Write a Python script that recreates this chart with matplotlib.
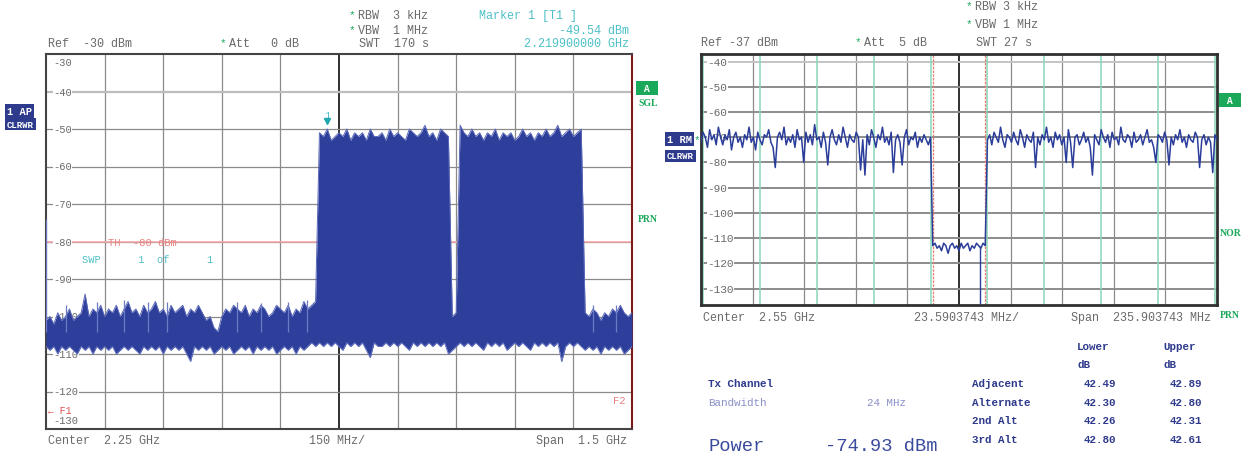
import numpy as np
import matplotlib
matplotlib.use('Agg')
from matplotlib import pyplot as plt

W, H = 1241, 460
MONO = 'Liberation Mono'

# ---- left analyzer: 1.5 .. 3.0 GHz, 10 MHz bins
freq_ghz = np.linspace(1.5, 3.0, 151)
hi_noise_left = [-101, -100, -102, -99, -101, -100, -98, -101, -100, -99,
                 -94, -100, -98, -99, -97, -100, -98, -99, -97, -100,
                 -98, -96, -99, -98, -100, -97, -99, -98, -96, -99,
                 -98, -100, -97, -99, -98, -97, -100, -98, -99, -97,
                 -99, -101, -100, -103, -104, -100, -98, -99, -97, -98,
                 -99, -97, -100, -98, -99, -97, -98, -100, -99, -97,
                 -98, -99, -97, -100, -98, -99, -96, -98, -97, -96]
hi_block1 = [-51, -52, -50, -53, -52, -51, -52, -50, -53, -51,
             -52, -51, -53, -50, -52, -52, -51, -53, -50, -52,
             -51, -52, -53, -50, -51, -52, -51, -49, -52, -51,
             -53, -50, -51, -52]
hi_gap = [-100, -99]
hi_block2 = [-49, -51, -52, -50, -52, -51, -53, -51, -52, -50,
             -53, -51, -52, -51, -53, -52, -50, -52, -51, -53,
             -51, -52, -50, -52, -51, -49, -52, -51, -50, -52,
             -51, -50]
hi_noise_right = [-99, -100, -98, -99, -101, -99, -100, -98, -99, -97, -99, -100, -99]
lo_trace = [-108, -109, -108, -110, -108, -109, -108, -109, -110, -108,
            -109, -108, -110, -108, -109, -108, -109, -108, -110, -109,
            -108, -109, -108, -109, -110, -108, -109, -108, -109, -108,
            -110, -108, -109, -108, -109, -108, -110, -112, -108, -109,
            -108, -109, -108, -110, -109, -108, -109, -108, -110, -109,
            -108, -109, -108, -110, -108, -109, -108, -109, -108, -110,
            -109, -108, -109, -108, -110, -108, -109, -108, -107, -108,
            -107, -108, -107, -108, -107, -108, -109, -107, -108, -107,
            -108, -107, -109, -111, -107, -108, -108, -107, -108, -107,
            -108, -107, -108, -109, -107, -108, -107, -108, -107, -108,
            -107, -108, -107, -110, -109, -108, -107, -108, -107, -108,
            -107, -108, -109, -107, -108, -107, -108, -107, -109, -108,
            -107, -108, -107, -108, -109, -107, -108, -107, -108, -107,
            -108, -107, -112, -108, -107, -108, -107, -108, -109, -108,
            -109, -108, -110, -108, -109, -108, -109, -108, -110, -109, -108]
spike_f = [1.5005, 1.55, 1.63, 1.70, 1.76, 1.81, 1.99, 2.05, 2.12, 2.168, 2.90, 2.96]
spike_top = [-74, -97, -96, -95.5, -96, -96, -96, -96.5, -96, -95.5, -97, -97]
marker_f, marker_db = 2.2199, -49.54
threshold_db = -80

# ---- right analyzer: offset from 2.55 GHz in MHz, 1 MHz steps
off_mhz = np.arange(-118, 119)
tr_left = [-72, -68, -70, -74, -67, -71, -69, -73, -66, -70,
           -73, -69, -71, -67, -75, -70, -68, -72, -70, -74,
           -69, -71, -66, -72, -70, -75, -68, -71, -73, -69,
           -70, -67, -72, -74, -82, -70, -68, -71, -66, -73,
           -70, -72, -69, -74, -67, -71, -70, -80, -68, -72,
           -69, -73, -65, -71, -70, -74, -68, -72, -81, -70,
           -67, -71, -73, -69, -72, -66, -70, -74, -69, -71,
           -72, -68, -70, -83, -71, -85, -69, -73, -67, -70,
           -74, -69, -71, -66, -72, -70, -73, -68, -84, -71,
           -69, -72, -81, -70, -67, -73, -70, -71, -68, -74,
           -70, -72, -69, -71, -73, -70]
tr_mid = [-113, -112, -114, -113, -115, -112, -113, -116, -113, -112,
          -114, -113, -115, -112, -114, -113, -112, -115, -113, -114,
          -112, -113, -114, -112, -113]
tr_right = [-71, -69, -73, -68, -70, -72, -66, -71, -74, -69,
            -70, -72, -68, -71, -73, -67, -70, -74, -69, -71,
            -72, -68, -82, -70, -73, -69, -71, -66, -72, -70,
            -74, -68, -71, -69, -73, -70, -80, -67, -72, -82,
            -70, -69, -73, -71, -68, -72, -70, -74, -85, -69,
            -71, -73, -67, -70, -72, -69, -74, -68, -71, -70,
            -73, -66, -71, -72, -69, -70, -74, -68, -72, -71,
            -69, -73, -70, -67, -72, -71, -74, -80, -69, -70,
            -72, -68, -71, -81, -70, -73, -69, -71, -67, -72,
            -70, -74, -69, -71, -72, -68, -70, -82, -71, -69,
            -73, -70, -72, -84, -69, -71]
dip_off, dip_db = 9.7, -136
chan_edges = [-117, -91, -65, -39, -13, 13, 39, 65, 91, 117]
tx_edges = [-12, 12]

acp_rows = ['Adjacent', 'Alternate', '2nd Alt', '3rd Alt']
acp_lower = ['42.49', '42.30', '42.26', '42.80']
acp_upper = ['42.89', '42.80', '42.31', '42.61']

BLUE = '#2d3f9b'
GRID = '#8a8a8a'
TXT = '#6a6a6a'
CYAN = '#4fc0c8'
GREEN = '#1aa85a'
NAVY = '#2e3a8c'

fig = plt.figure(figsize=(W / 100, H / 100), dpi=100)


def rect(x0, y0, x1, y1):
    return [x0 / W, 1 - y1 / H, (x1 - x0) / W, (y1 - y0) / H]


def ftxt(x, y, s, **kw):
    kw.setdefault('family', MONO)
    kw.setdefault('size', 8.5)
    kw.setdefault('color', TXT)
    fig.text(x / W, 1 - y / H, s, va='center', **kw)


def tag(x, y, s, bg, size=7):
    fig.text(x / W, 1 - y / H, s, va='center', family=MONO, size=size, weight='bold',
             color='white', bbox=dict(boxstyle='square,pad=0.2', fc=bg, ec='none'))


# ================= left panel
ax1 = fig.add_axes(rect(46, 55, 632, 430))
ax1.set_xlim(1.5, 3.0)
ax1.set_ylim(-130, -30)
ax1.set_xticks([]); ax1.set_yticks([])
for s in ['left', 'top', 'bottom']:
    ax1.spines[s].set_color('#444444'); ax1.spines[s].set_linewidth(1.5)
ax1.spines['right'].set_color('#7a1a1a'); ax1.spines['right'].set_linewidth(1.5)

xg = np.linspace(1.5, 3.0, 11)[1:-1]
for i, x in enumerate(xg):
    if i == 4:
        ax1.axvline(x, color='#202020', lw=1.3, zorder=1)
    else:
        ax1.axvline(x, color=GRID, lw=0.9, zorder=1)
for y in range(-40, -125, -10):
    if y == -40:
        ax1.axhline(y, color='#bdbdbd', lw=1.6, zorder=1)
    else:
        ax1.axhline(y, color=GRID, lw=0.9, zorder=1)
ax1.axhline(threshold_db, color='#f4a6a6', lw=1.1, zorder=2)

hi_trace = np.concatenate([hi_noise_left, hi_block1, hi_gap, hi_block2, hi_noise_right])
ax1.fill_between(freq_ghz, lo_trace, hi_trace, color=BLUE, lw=0, zorder=3)
ax1.plot(freq_ghz, hi_trace, color='#5a68b8', lw=0.7, zorder=3)
ax1.plot(freq_ghz, lo_trace, color='#6674c0', lw=0.7, zorder=3)
ax1.vlines(spike_f, -104, spike_top, color='#6c7bc6', lw=0.9, zorder=3)

ax1.plot([marker_f], [marker_db + 1.6], marker='v', color='#20a8b0', ms=5, zorder=4)
ax1.text(marker_f, -46.2, '1', color=CYAN, family=MONO, size=7.5, ha='center', va='center')

for y, lab in [(-32.2, '-30'), (-40, '-40'), (-50, '-50'), (-60, '-60'), (-70, '-70'),
               (-80, '-80'), (-90, '-90'), (-100, '-100'), (-110, '-110'), (-120, '-120'),
               (-127.7, '-130')]:
    ax1.text(0.012, y, lab, transform=ax1.get_yaxis_transform(), family=MONO, size=7.5,
             color=TXT, va='center', zorder=2,
             bbox=dict(boxstyle='square,pad=0.05', fc='white', ec='none'))
ax1.text(1.659, threshold_db, 'TH  -80 dBm', color='#e88080', family=MONO, size=7.5, va='center', zorder=2)
ax1.text(1.593, -84.6, 'SWP      1  of      1', color=CYAN, family=MONO, size=7.5, va='center')
ax1.text(1.505, -125.0, '\u2190 F1', color='#e05050', family=MONO, size=7, va='center')
ax1.text(2.952, -122.2, 'F2', color='#e88080', family=MONO, size=7.5, va='center')

ftxt(48, 44, 'Ref  -30 dBm')
ftxt(220, 43, '*', color=GREEN, size=8)
ftxt(229, 44, 'Att   0 dB')
ftxt(349, 15, '*', color=GREEN, size=8)
ftxt(358, 16, 'RBW  3 kHz')
ftxt(349, 30, '*', color=GREEN, size=8)
ftxt(358, 31, 'VBW  1 MHz')
ftxt(359, 44, 'SWT  170 s')
ftxt(479, 16, 'Marker 1 [T1 ]', color=CYAN)
ftxt(629, 31, '-49.54 dBm', color=CYAN, ha='right')
ftxt(629, 44, '2.219900000 GHz', color=CYAN, ha='right')
ftxt(48, 441, 'Center  2.25 GHz')
ftxt(309, 441, '150 MHz/')
ftxt(627, 441, 'Span  1.5 GHz', ha='right')

tag(7, 112, '1 AP', NAVY, size=7.5)
tag(7, 125, 'CLRWR', NAVY, size=6.5)
tag(638, 89, ' A ', GREEN)
ftxt(638, 104, 'SGL', color=GREEN, size=7, weight='bold', family='Liberation Serif')
ftxt(638, 220, 'PRN', color=GREEN, size=7, weight='bold', family='Liberation Serif')

# ================= right panel
ax2 = fig.add_axes(rect(701, 55, 1217, 306))
ax2.set_xlim(-117.95, 117.95)
ax2.set_ylim(-136.5, -37)
ax2.set_xticks([]); ax2.set_yticks([])
for s in ax2.spines.values():
    s.set_color('#303030'); s.set_linewidth(2)

xg2 = np.linspace(-117.95, 117.95, 11)[1:-1]
for i, x in enumerate(xg2):
    if i == 4:
        ax2.axvline(x, color='#202020', lw=1.3, zorder=1)
    else:
        ax2.axvline(x, color=GRID, lw=0.9, zorder=1)
for y in range(-40, -135, -10):
    ax2.axhline(y, color='#c4c4c4' if y == -40 else '#8c8c8c', lw=1.4, zorder=1)
for x in chan_edges:
    ax2.axvline(x, color='#86d8b8', lw=1.1, zorder=1.5)
for x in tx_edges:
    ax2.axvline(x, color='#f07a6a', lw=0.9, ls=(0, (2, 1)), zorder=1.5)

trace2 = np.concatenate([tr_left, tr_mid, tr_right])
ax2.plot(off_mhz, trace2, color='#2b3d9a', lw=1.1, zorder=3)
ax2.vlines([dip_off], dip_db, -113, color='#2b3d9a', lw=1.0, zorder=3)

for y in range(-40, -135, -10):
    ax2.text(0.012, y, str(y), transform=ax2.get_yaxis_transform(), family=MONO, size=8,
             color=TXT, va='center', zorder=2,
             bbox=dict(boxstyle='square,pad=0.05', fc='white', ec='none'))

ftxt(701, 43, 'Ref -37 dBm')
ftxt(855, 42, '*', color=GREEN, size=8)
ftxt(864, 43, 'Att  5 dB')
ftxt(966, 6, '*', color=GREEN, size=8)
ftxt(975, 7, 'RBW 3 kHz')
ftxt(966, 24, '*', color=GREEN, size=8)
ftxt(975, 25, 'VBW 1 MHz')
ftxt(976, 43, 'SWT 27 s')
ftxt(703, 318, 'Center  2.55 GHz')
ftxt(914, 318, '23.5903743 MHz/')
ftxt(1211, 318, 'Span  235.903743 MHz', ha='right')

tag(667, 140, '1 RM', NAVY, size=7.5)
ftxt(694, 140, '*', color=GREEN, size=8)
tag(667, 157, 'CLRWR', NAVY, size=6.5)
tag(1221, 101, ' A ', GREEN)
ftxt(1220, 234, 'NOR', color=GREEN, size=7, weight='bold', family='Liberation Serif')
ftxt(1220, 315, 'PRN', color=GREEN, size=7, weight='bold', family='Liberation Serif')

# ---- ACP table
ftxt(1077, 347, 'Lower', color=NAVY, size=7.8, weight='bold')
ftxt(1163, 347, 'Upper', color=NAVY, size=7.8, weight='bold')
ftxt(1077, 365, 'dB', color=NAVY, size=7.8, weight='bold')
ftxt(1163, 365, 'dB', color=NAVY, size=7.8, weight='bold')
ftxt(708, 384, 'Tx Channel', color=NAVY, size=7.8, weight='bold')
ftxt(708, 403, 'Bandwidth', color='#8a90c8', size=7.8)
ftxt(867, 403, '24 MHz', color='#8a90c8', size=7.8)
for i, (r, lo, up) in enumerate(zip(acp_rows, acp_lower, acp_upper)):
    y = 384 + i * 18.7
    ftxt(972, y, r, color=NAVY, size=7.8, weight='bold')
    ftxt(1084, y, lo, color=NAVY, size=7.8, weight='bold')
    ftxt(1170, y, up, color=NAVY, size=7.8, weight='bold')
ftxt(709, 447, 'Power', color='#3a4a9c', size=13.5)
ftxt(825, 447, '-74.93 dBm', color='#3a4a9c', size=13.5)

fig.savefig('out.png', dpi=100)
